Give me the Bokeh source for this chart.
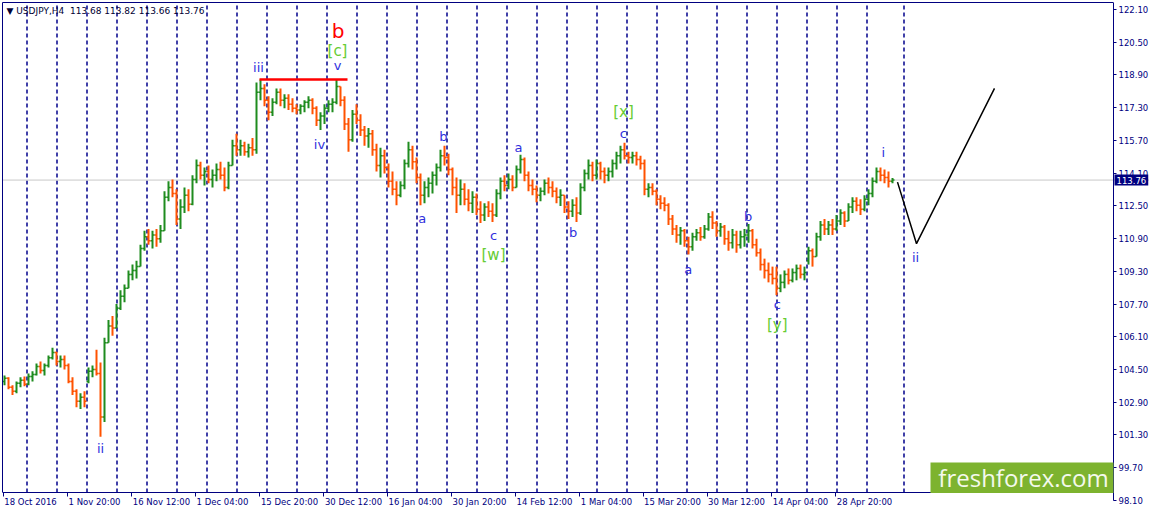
from bokeh.plotting import figure
from bokeh.models import (Range1d, LinearAxis, FixedTicker, Span, Label, BoxAnnotation,
                          ColumnDataSource, PrintfTickFormatter)
from bokeh.core.properties import value
from bokeh.embed import file_html
from bokeh.resources import INLINE

# ---------------- data ----------------
symbol = "USDJPY,H4"
last_ohlc = [113.68, 113.82, 113.66, 113.76]

# USDJPY H4 bars, grouped 4 bars (16 h) per entry, starting 18 Oct 2016 04:00
BARS_PER_ENTRY = 4
bar_open = [
    103.92, 104.07, 103.63, 103.44, 103.83, 103.97, 103.78, 104.16, 104.26, 104.65,
    104.45, 104.70, 105.08, 105.33, 104.89, 104.99, 104.70, 103.92, 103.44, 102.95,
    103.15, 103.92, 104.41, 104.50, 104.31, 102.18, 105.81, 106.63, 106.53, 107.50,
    108.08, 108.47, 109.15, 109.34, 109.53, 110.41, 110.99, 110.79, 111.08, 110.89,
    111.28, 112.92, 113.40, 113.11, 111.86, 112.44, 113.02, 112.58, 113.79, 114.47,
    113.99, 114.18, 113.79, 113.99, 114.28, 113.99, 113.40, 114.47, 115.44, 115.24,
    115.44, 115.15, 115.34, 115.24, 118.05, 118.24, 117.66, 117.08, 117.57, 118.05,
    117.66, 117.76, 117.47, 117.27, 117.18, 117.37, 117.57, 117.66, 117.27, 116.69,
    116.89, 117.27, 117.47, 117.57, 118.34, 117.66, 116.50, 115.73, 116.98, 116.69,
    116.21, 115.92, 116.02, 115.24, 114.47, 114.95, 114.37, 113.70, 113.31, 113.02,
    113.50, 114.57, 115.24, 114.66, 113.89, 113.02, 113.40, 113.60, 113.99, 114.37,
    114.95, 114.86, 114.28, 113.40, 113.02, 113.31, 112.82, 112.63, 112.92, 112.34,
    112.05, 112.44, 112.24, 112.05, 113.11, 113.70, 113.50, 113.79, 113.40, 114.28,
    114.76, 113.99, 113.50, 113.31, 113.02, 113.21, 113.60, 113.40, 113.21, 112.92,
    113.02, 112.44, 112.24, 112.53, 112.15, 113.40, 114.08, 114.47, 113.99, 114.57,
    114.18, 113.99, 114.18, 114.57, 114.95, 115.24, 114.95, 114.86, 114.95, 114.76,
    114.57, 113.31, 113.40, 113.21, 112.82, 112.63, 112.53, 111.86, 111.37, 111.08,
    111.28, 110.79, 110.50, 110.99, 111.18, 110.99, 111.37, 111.95, 111.66, 111.28,
    111.47, 110.89, 110.70, 111.08, 110.60, 110.99, 111.08, 111.28, 110.60, 110.21,
    109.63, 109.34, 109.15, 108.95, 108.47, 108.76, 109.15, 108.86, 109.24, 109.44,
    109.15, 109.82, 110.31, 110.02, 110.99, 111.57, 111.37, 111.57, 111.37, 111.76,
    112.15, 111.76, 112.44, 112.73, 112.53, 112.34, 112.82, 113.11, 113.70, 114.18,
    113.99, 113.89, 113.70,
]
bar_high = [
    104.21, 104.12, 103.73, 103.92, 104.12, 104.16, 104.31, 104.41, 104.79, 104.89,
    104.79, 105.18, 105.57, 105.37, 105.18, 105.18, 104.79, 104.12, 103.54, 103.34,
    103.44, 104.60, 104.70, 105.47, 104.84, 106.05, 106.92, 107.12, 107.70, 108.37,
    108.66, 109.34, 109.63, 109.82, 110.60, 111.28, 111.37, 111.28, 111.37, 111.57,
    113.21, 113.70, 113.79, 113.31, 112.82, 113.40, 113.31, 113.99, 114.76, 114.66,
    114.37, 114.47, 114.28, 114.57, 114.66, 114.37, 114.66, 115.73, 116.02, 115.73,
    115.63, 115.53, 115.82, 118.53, 118.68, 118.44, 117.86, 117.76, 118.24, 118.24,
    117.95, 117.95, 117.76, 117.47, 117.47, 117.66, 117.86, 117.76, 117.37, 117.08,
    117.47, 117.66, 117.76, 118.68, 118.34, 117.86, 116.79, 117.18, 117.47, 116.98,
    116.40, 116.31, 116.21, 115.53, 115.34, 115.24, 114.57, 114.18, 113.70, 113.70,
    114.76, 115.63, 115.44, 114.86, 114.08, 113.70, 113.89, 114.18, 114.57, 115.24,
    115.44, 115.05, 114.37, 113.89, 113.79, 113.60, 113.31, 113.21, 113.11, 112.73,
    112.63, 112.73, 112.63, 113.31, 113.89, 113.99, 114.08, 113.99, 114.47, 115.00,
    114.86, 114.18, 113.79, 113.50, 113.40, 113.79, 113.89, 113.70, 113.40, 113.31,
    113.02, 112.73, 112.82, 112.92, 113.60, 114.28, 114.76, 114.66, 114.76, 114.66,
    114.37, 114.37, 114.76, 115.15, 115.44, 115.58, 115.15, 115.15, 115.15, 114.95,
    114.76, 113.60, 113.60, 113.31, 113.02, 112.92, 112.63, 112.05, 111.57, 111.47,
    111.37, 110.99, 111.18, 111.37, 111.47, 111.57, 112.15, 112.24, 111.76, 111.66,
    111.57, 111.28, 111.37, 111.28, 111.28, 111.37, 111.61, 111.37, 110.89, 110.41,
    109.92, 109.73, 109.53, 109.53, 109.15, 109.34, 109.44, 109.44, 109.63, 109.63,
    109.53, 110.50, 110.41, 111.18, 111.76, 111.86, 111.76, 111.86, 112.05, 112.34,
    112.24, 112.63, 112.92, 112.92, 112.82, 113.02, 113.31, 113.89, 114.37, 114.37,
    114.28, 114.18, 113.86,
]
bar_low = [
    103.73, 103.54, 103.25, 103.34, 103.63, 103.68, 103.73, 103.92, 104.21, 104.31,
    104.21, 104.60, 104.99, 104.70, 104.60, 104.50, 103.83, 103.25, 102.66, 102.57,
    102.66, 103.83, 104.12, 104.21, 101.21, 101.94, 105.81, 106.15, 106.53, 107.41,
    107.79, 108.47, 108.86, 108.95, 109.53, 110.31, 110.60, 110.41, 110.50, 110.70,
    111.28, 112.73, 112.92, 111.57, 111.37, 112.15, 112.24, 112.53, 113.60, 113.79,
    113.50, 113.60, 113.40, 113.70, 113.79, 113.21, 113.31, 114.47, 114.95, 114.95,
    114.95, 114.86, 114.95, 115.05, 117.66, 117.37, 116.69, 116.89, 117.47, 117.37,
    117.27, 117.18, 117.08, 116.98, 116.98, 117.08, 117.27, 116.98, 116.40, 116.21,
    116.50, 117.08, 117.08, 117.47, 117.37, 116.21, 115.15, 115.63, 116.50, 115.92,
    115.44, 115.34, 114.95, 114.18, 113.89, 114.08, 113.40, 113.02, 112.53, 112.92,
    113.31, 114.37, 114.28, 113.60, 112.53, 112.63, 112.92, 113.11, 113.50, 114.18,
    114.47, 113.99, 113.02, 112.15, 112.53, 112.53, 112.24, 112.15, 112.05, 111.66,
    111.76, 111.95, 111.71, 111.95, 112.82, 113.21, 113.31, 113.21, 113.40, 114.08,
    113.70, 113.21, 113.02, 112.68, 112.73, 113.02, 113.11, 112.92, 112.63, 112.49,
    112.15, 111.86, 111.95, 111.71, 112.05, 113.21, 113.79, 113.70, 113.79, 113.79,
    113.60, 113.70, 113.89, 114.28, 114.57, 114.76, 114.57, 114.57, 114.47, 114.28,
    113.02, 112.92, 113.02, 112.53, 112.34, 112.24, 111.57, 111.08, 110.70, 110.60,
    110.50, 110.12, 110.31, 110.79, 110.79, 110.89, 111.28, 111.37, 110.99, 110.99,
    110.60, 110.31, 110.41, 110.21, 110.41, 110.50, 110.70, 110.41, 110.02, 109.34,
    108.95, 108.76, 108.66, 108.13, 108.28, 108.47, 108.66, 108.76, 108.86, 108.95,
    108.86, 109.63, 109.53, 110.02, 110.79, 111.08, 111.08, 111.08, 111.28, 111.57,
    111.47, 111.76, 112.15, 112.24, 112.05, 112.24, 112.53, 112.92, 113.60, 113.70,
    113.60, 113.40, 113.60,
]
bar_close = [
    104.07, 103.63, 103.44, 103.83, 103.97, 103.78, 104.16, 104.26, 104.65, 104.45,
    104.70, 105.08, 105.33, 104.89, 104.99, 104.70, 103.92, 103.44, 102.95, 103.15,
    102.95, 104.41, 104.50, 104.31, 102.18, 105.81, 106.63, 106.53, 107.50, 108.08,
    108.47, 109.15, 109.34, 109.53, 110.41, 110.99, 110.79, 111.08, 110.89, 111.28,
    112.92, 113.40, 113.11, 111.86, 112.44, 113.02, 112.58, 113.79, 114.47, 113.99,
    114.18, 113.79, 113.99, 114.28, 113.99, 113.40, 114.47, 115.44, 115.24, 115.44,
    115.15, 115.34, 115.24, 118.05, 118.24, 117.66, 117.08, 117.57, 118.05, 117.66,
    117.76, 117.47, 117.27, 117.18, 117.37, 117.57, 117.66, 117.27, 116.69, 116.89,
    117.27, 117.47, 117.57, 118.34, 117.66, 116.50, 115.73, 116.98, 116.69, 116.21,
    115.92, 116.02, 115.24, 114.47, 114.95, 114.37, 113.70, 113.31, 113.02, 113.50,
    114.57, 115.24, 114.66, 113.89, 113.02, 113.40, 113.60, 113.99, 114.37, 114.95,
    114.86, 114.28, 113.40, 113.02, 113.31, 112.82, 112.63, 112.92, 112.34, 112.05,
    112.44, 112.24, 112.05, 113.11, 113.70, 113.50, 113.79, 113.40, 114.28, 114.76,
    113.99, 113.50, 113.31, 113.02, 113.21, 113.60, 113.40, 113.21, 112.92, 113.02,
    112.44, 112.24, 112.53, 112.15, 113.40, 114.08, 114.47, 113.99, 114.57, 114.18,
    113.99, 114.18, 114.57, 114.95, 115.24, 114.95, 114.86, 114.95, 114.76, 114.57,
    113.31, 113.40, 113.21, 112.82, 112.63, 112.53, 111.86, 111.37, 111.08, 111.28,
    110.79, 110.50, 110.99, 111.18, 110.99, 111.37, 111.95, 111.66, 111.28, 111.47,
    110.89, 110.70, 111.08, 110.60, 110.99, 111.08, 111.28, 110.60, 110.21, 109.63,
    109.34, 109.15, 108.95, 108.47, 108.76, 109.15, 108.86, 109.24, 109.44, 109.15,
    109.24, 110.31, 110.02, 110.99, 111.57, 111.37, 111.57, 111.37, 111.76, 112.15,
    111.76, 112.44, 112.73, 112.53, 112.34, 112.82, 113.11, 113.70, 114.18, 113.99,
    113.89, 113.70, 113.76,
]

# time axis labels, one every 64 H4 bars
LABEL_STEP = 64
date_labels = ["18 Oct 2016", "1 Nov 20:00", "16 Nov 12:00", "1 Dec 04:00", "15 Dec 20:00",
               "30 Dec 12:00", "16 Jan 04:00", "30 Jan 20:00", "14 Feb 12:00", "1 Mar 04:00",
               "15 Mar 20:00", "30 Mar 12:00", "14 Apr 04:00", "28 Apr 20:00"]
price_ticks = [98.10, 99.70, 101.30, 102.90, 104.50, 106.10, 107.70, 109.30, 110.90,
               112.50, 114.10, 115.70, 117.30, 118.90, 120.50, 122.10]

# weekly period separators (bar index of each Monday 00:00), last one in the future area
separator_bars = [23 + 30 * k for k in range(29)] + [900]

# wave count labels
wave_text = ["b", "[c]", "v", "iii", "iv", "ii",
             "a", "b", "c", "[w]", "a", "b", "c", "[x]",
             "a", "b", "c", "[y]", "i", "ii"]
wave_bar = [334.5, 334, 334, 255, 316, 97,
            418.7, 440, 490, 490, 515, 569.7, 619.7, 620,
            684.7, 744.7, 773.7, 773.7, 879.7, 912]
wave_price = [121.05, 120.08, 119.36, 119.26, 115.49, 100.63,
              111.90, 115.87, 111.05, 110.08, 115.34, 111.18, 116.02, 117.10,
              109.39, 111.99, 107.66, 106.69, 115.11, 110.00]
wave_kind = ["major", "inter", "minor", "minor", "minor", "minor",
             "minor", "minor", "minor", "inter", "minor", "minor", "minor", "inter",
             "minor", "minor", "minor", "inter", "minor", "minor"]

# horizontal line across the two tops
top_line_bars = [256, 344]
top_line_price = [118.68, 118.68]

# projected path
proj_bars = [894, 913, 991]
proj_price = [113.66, 110.65, 118.24]

# ---------------- style / layout ----------------
NAVY = "#000080"
GREEN = "#1f8c1f"
ORANGE = "#ff5200"
FONT = "DejaVu Sans"
AXIS_FS = 8.5
X_START, X_AXIS, X_END = -1, 1110, 1146        # bar units: left edge, price scale, canvas edge
Y_BOTTOM, Y_AXIS, Y_TOP = 97.56, 98.49, 122.44  # price units: canvas bottom, time axis, top edge

# approximate DejaVu Sans advance widths (em) for left-aligning the time labels
CHAR_W = {" ": 0.318, ":": 0.337, "O": 0.787, "c": 0.550, "t": 0.392, "N": 0.748, "o": 0.612,
          "v": 0.592, "D": 0.770, "e": 0.615, "J": 0.295, "a": 0.613, "n": 0.634, "F": 0.575,
          "b": 0.635, "M": 0.863, "r": 0.411, "A": 0.684, "p": 0.635}


def text_width(s, size):
    return sum(CHAR_W.get(ch, 0.636) for ch in s) * size


p = figure(width=1149, height=511,
           x_range=Range1d(X_START, X_END), y_range=Range1d(Y_BOTTOM, Y_TOP),
           output_backend="svg", toolbar_location=None,
           x_axis_location=None, y_axis_location=None,
           min_border_left=2, min_border_top=2, min_border_right=0, min_border_bottom=0)
p.grid.visible = False
p.background_fill_color = "white"
p.border_fill_color = "white"
p.outline_line_color = None


def frame_line_axis():
    ax = LinearAxis(ticker=FixedTicker(ticks=[], minor_ticks=[]))
    ax.axis_line_color = NAVY
    ax.major_tick_in = ax.major_tick_out = 0
    ax.minor_tick_in = ax.minor_tick_out = 0
    ax.major_tick_line_color = None
    ax.minor_tick_line_color = None
    ax.major_label_standoff = 0
    return ax


# chart border: left and top
left_border = frame_line_axis()
left_border.bounds = (Y_AXIS, Y_TOP)
p.add_layout(left_border, "left")
top_border = frame_line_axis()
top_border.bounds = (X_START, X_AXIS)
p.add_layout(top_border, "above")

# time axis: tick marks as minor ticks, labels placed so they start at each tick
tick_bars = [LABEL_STEP * i for i in range(len(date_labels))]
label_pos = [int(round(t + 1 + text_width(lab, AXIS_FS) / 2)) for t, lab in zip(tick_bars, date_labels)]
xaxis = LinearAxis(ticker=FixedTicker(ticks=label_pos, minor_ticks=tick_bars),
                   major_label_overrides={c: lab for c, lab in zip(label_pos, date_labels)},
                   fixed_location=Y_AXIS)
xaxis.bounds = (X_START, X_AXIS)
xaxis.axis_line_color = NAVY
xaxis.major_tick_line_color = None
xaxis.major_tick_in = 0
xaxis.major_tick_out = 0
xaxis.minor_tick_line_color = NAVY
xaxis.minor_tick_in = 0
xaxis.minor_tick_out = 4
xaxis.major_label_standoff = 1
xaxis.major_label_text_font = FONT
xaxis.major_label_text_font_size = "%spx" % AXIS_FS
xaxis.major_label_text_color = NAVY
p.add_layout(xaxis, "below")

# price scale
yaxis = LinearAxis(ticker=FixedTicker(ticks=price_ticks, minor_ticks=[]),
                   formatter=PrintfTickFormatter(format="%.2f"), fixed_location=X_AXIS)
yaxis.bounds = (price_ticks[0], Y_TOP)
yaxis.axis_line_color = NAVY
yaxis.major_tick_line_color = NAVY
yaxis.major_tick_in = 0
yaxis.major_tick_out = 3
yaxis.minor_tick_line_color = None
yaxis.major_label_standoff = 2
yaxis.major_label_text_font = FONT
yaxis.major_label_text_font_size = "%spx" % AXIS_FS
yaxis.major_label_text_color = NAVY
p.add_layout(yaxis, "right")

# weekly separators (from the time axis up) and current price line
sep_x = [b + 0.5 for b in separator_bars]
p.segment(x0=sep_x, y0=[Y_AXIS] * len(sep_x), x1=sep_x, y1=[Y_TOP] * len(sep_x),
          line_color="#00008b", line_dash="4 3", line_width=1.5, level="underlay")
p.add_layout(Span(location=last_ohlc[3], dimension="width", line_color="#c8c8c8",
                  line_width=1, level="underlay"))

# bars (vertical high-low line with open tick left and close tick right)
half = BARS_PER_ENTRY / 2
xs = [BARS_PER_ENTRY * i + 1 for i in range(len(bar_close))]
colors = [GREEN if c > o else (ORANGE if c < o else "black") for o, c in zip(bar_open, bar_close)]
src = ColumnDataSource(dict(x=xs, xl=[x - half for x in xs], xr=[x + half for x in xs],
                            o=bar_open, h=bar_high, l=bar_low, c=bar_close, color=colors))
p.segment(x0="x", y0="l", x1="x", y1="h", line_color="color", line_width=2, source=src)
p.segment(x0="xl", y0="o", x1="x", y1="o", line_color="color", line_width=1.5, source=src)
p.segment(x0="x", y0="c", x1="xr", y1="c", line_color="color", line_width=1.5, source=src)

# lines
p.line(top_line_bars, top_line_price, line_color="#ff0000", line_width=2.5)
p.line(proj_bars, proj_price, line_color="black", line_width=1.5)

# wave labels
kind_style = {"major": ("#ff0000", "20px"), "inter": ("#66cc33", "15px"), "minor": ("#3030dd", "13px")}
for kind, (col, size) in kind_style.items():
    idx = [i for i, k in enumerate(wave_kind) if k == kind]
    p.text(x=[wave_bar[i] for i in idx], y=[wave_price[i] for i in idx],
           text=[wave_text[i] for i in idx], text_color=col,
           text_font=value(FONT), text_font_size=value(size),
           text_align="center", text_baseline="middle")

# chart caption
title = "\u25bc " + symbol + "\u00a0\u00a0" + " ".join("%.2f" % v for v in last_ohlc)
p.add_layout(Label(x=3, y=122.01, text=title, text_font=FONT, text_font_size="9px",
                   text_color="#000033", text_align="left", text_baseline="middle"))

# logo
p.add_layout(BoxAnnotation(left=927, right=X_AXIS, top=99.96, bottom=Y_AXIS - 0.03,
                           fill_color="#7db32f", fill_alpha=1.0, line_color=None))
p.add_layout(Label(x=1020, y=99.22, text="freshforex.com", text_font="Open Sans",
                   text_font_size="24px", text_color="#f4f9ec",
                   text_align="center", text_baseline="middle"))

# current price box on the price scale
p.add_layout(Label(x=X_AXIS + 1, y=last_ohlc[3], text="%.2f" % last_ohlc[3], text_font=FONT,
                   text_font_size="%spx" % AXIS_FS, text_color="white",
                   background_fill_color=NAVY, text_align="left", text_baseline="middle",
                   padding=2))

open("out.html", "w").write(file_html(p, INLINE))
